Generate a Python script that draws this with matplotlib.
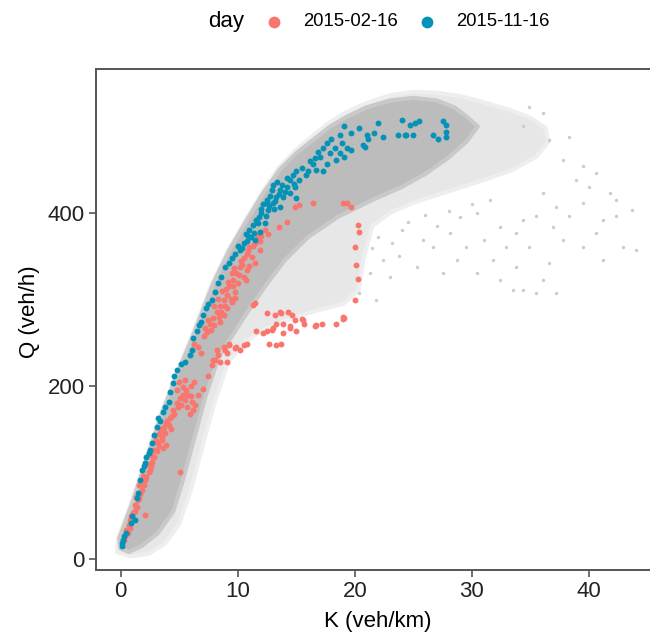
import matplotlib
matplotlib.use("Agg")
import matplotlib.pyplot as plt
import numpy as np

plt.rcParams['font.family'] = ['Liberation Sans', 'DejaVu Sans']

# 背景点云：外层稀疏区域与内层密集带（按轮廓描出）
halo_k = [-0.3, -0.2, 0.4, 1.0, 2.1, 3.5, 5.0, 6.1, 7.8, 9.2, 10.7, 12.1, 13.5, 14.9,
          16.3, 17.8, 19.2, 21.0, 23.0, 25.0, 27.0, 29.0, 31.0, 33.0, 35.0, 36.3, 36.5,
          35.5, 33.5, 31.0, 28.0, 25.0, 23.0, 21.5, 20.8, 20.3, 19.0, 17.0, 15.0, 13.0,
          11.8, 10.6, 9.2, 8.0, 6.8, 6.0, 5.0, 3.8, 2.4, 0.8]
halo_q = [8, 24, 46, 68, 114, 170, 222, 258, 318, 357, 392, 424, 452, 472,
          488, 504, 516, 527, 536, 540, 539, 535, 528, 520, 510, 498, 482,
          465, 450, 438, 425, 412, 400, 385, 350, 310, 295, 288, 280, 270,
          262, 250, 228, 180, 120, 80, 40, 18, 6, 3]

core_k = [0.0, -0.1, 0.5, 1.1, 2.2, 3.6, 5.1, 6.2, 7.9, 9.3, 10.8, 12.2, 13.6, 15.0,
          16.4, 17.9, 19.3, 21.0, 23.0, 25.0, 27.0, 28.5, 29.5, 30.5, 29.5, 28.0, 26.0,
          24.0, 21.5, 18.5, 16.0, 14.0, 12.5, 11.3, 10.0, 8.4, 7.3, 6.3, 5.3, 4.5, 3.2,
          1.8, 0.7]
core_q = [12, 24, 46, 68, 114, 170, 222, 258, 318, 357, 392, 423, 450, 469,
          484, 500, 511, 522, 530, 533, 530, 522, 512, 500, 482, 464, 445,
          430, 415, 395, 372, 345, 318, 295, 268, 234, 190, 140, 90, 55, 30,
          15, 8]

# 右侧稀疏的散点
sparse_k = [44.0, 43.7, 42.3, 42.9, 41.2, 40.6, 39.5, 40.0, 38.9, 38.3, 37.8, 36.9, 36.1,
            35.5, 34.4, 33.5, 34.9, 36.6, 37.2, 36.1, 35.5, 34.4, 33.8, 32.9, 32.4, 31.8,
            31.0, 30.4, 31.5, 37.8, 36.6, 36.1, 34.9, 34.4, 38.3, 39.5, 40.6, 41.8, 42.3,
            29.5, 28.1, 28.7, 26.7, 25.8, 23.8, 22.4, 21.3, 23.0, 25.3, 27.5, 30.4, 32.4,
            37.2, 33.8, 20.4, 21.8, 39.5, 41.2, 22.0, 24.5, 26.0, 28.0, 29.0, 23.2, 21.5,
            24.0, 27.0, 30.0]
sparse_q = [357, 403, 415, 361, 392, 377, 411, 430, 438, 396, 369, 384, 323,
            307, 311, 311, 361, 342, 407, 423, 396, 392, 377, 361, 384, 346,
            369, 400, 415, 461, 484, 515, 523, 500, 488, 454, 446, 423, 396,
            361, 377, 346, 361, 369, 350, 346, 330, 326, 338, 330, 330, 323,
            307, 338, 307, 299, 361, 346, 372, 390, 398, 402, 395, 365, 360,
            380, 385, 410]

# 2015-02-16
day1_k = [16.4, 19.0, 19.3, 19.7, 15.2, 14.9, 14.2, 13.5, 20.3, 20.4, 20.0, 20.1, 20.3,
          20.0, 19.0, 19.0,
          12.0, 11.9, 11.5, 11.0, 10.8, 11.2, 11.5, 10.5, 10.2, 10.8, 9.9, 10.5, 9.6,
          10.0, 9.3, 9.8, 9.1, 8.8, 9.5, 8.5, 9.1, 8.2, 8.8, 7.9, 8.5, 7.6, 7.2, 11.7,
          11.3, 9.0, 9.7, 10.3, 8.6, 9.4, 10.1, 8.0, 7.4,
          8.3, 8.7, 9.2, 9.6, 10.4, 10.9, 11.3, 9.8, 8.9, 8.4, 7.7, 7.1, 10.7, 11.0,
          9.5, 8.0, 7.5, 12.3, 12.6, 11.9,
          11.5, 12.5, 13.6, 14.3, 13.3, 13.9, 14.9, 15.5, 15.7, 14.5, 15.0, 11.6, 12.5,
          13.0, 16.6, 17.2, 18.4, 13.9, 12.2, 12.7, 13.3, 13.7, 12.9, 14.5, 15.6, 16.7,
          19.1, 14.6, 13.7, 13.2,
          8.2, 8.8, 9.3, 9.9, 10.5, 9.1, 7.9, 8.5, 10.2, 10.8, 8.1, 8.3, 8.9, 9.3, 9.8,
          9.1, 7.8, 6.3, 6.6, 6.9,
          5.5, 5.3, 5.8, 6.1, 5.5, 5.1, 5.9, 6.2, 4.5, 4.2, 3.9, 3.6, 3.5, 3.9, 3.2, 2.9,
          2.8, 5.1, 2.5, 2.1, 1.8, 1.5, 1.4, 2.1, 1.1, 0.8, 0.7, 0.5, 0.4, 7.5,
          4.0, 3.7, 3.3, 3.0, 2.6, 2.3, 1.9, 1.6, 1.2, 0.9, 4.8, 5.0, 5.2, 4.9, 6.6, 7.0,
          3.4, 2.7, 1.3,
          1.0, 1.2, 1.6, 1.7, 2.0, 2.2, 2.4, 2.6, 2.9, 3.1, 3.3, 3.5, 3.8, 4.1, 4.4, 4.6,
          4.8, 5.3, 5.6, 6.0, 6.3, 6.0, 5.7, 6.4, 4.3, 3.6, 0.6, 0.3, 0.8]
day1_q = [412, 412, 411, 407, 409, 407, 390, 384, 386, 378, 361, 340, 324,
          299, 280, 277,
          373, 357, 365, 361, 353, 349, 342, 348, 338, 334, 330, 326, 323,
          319, 315, 309, 305, 299, 297, 292, 290, 286, 282, 278, 274, 272, 267, 373,
          294, 312, 336, 344, 285, 300, 328, 270, 262,
          300, 310, 320, 316, 340, 356, 362, 302, 292, 280, 265, 258, 322, 339,
          330, 292, 276, 380, 376, 368,
          296, 284, 286, 286, 272, 272, 276, 277, 272, 267, 263, 263, 263,
          267, 269, 272, 272, 261, 261, 249, 247, 249, 265, 269, 276, 271,
          278, 282, 284, 282,
          242, 245, 249, 245, 247, 238, 230, 228, 242, 249, 230, 236, 242, 247, 244,
          228, 224, 249, 245, 238,
          207, 199, 190, 182, 184, 186, 168, 172, 172, 163, 157, 149, 141, 132, 134, 126,
          118, 101, 103, 91, 80, 68, 60, 51, 53, 45, 39, 34, 26, 211,
          160, 152, 145, 137, 120, 110, 96, 85, 62, 50, 195, 205, 178, 176, 190, 196,
          150, 112, 72,
          48, 55, 70, 75, 85, 95, 100, 108, 118, 125, 130, 138, 146, 155, 165, 168,
          180, 190, 195, 200, 205, 188, 176, 178, 150, 128, 30, 22, 36]

# 2015-11-16
day2_k = [19.1, 19.7, 20.4, 22.0, 21.6, 22.4, 20.7, 21.1, 24.0, 24.7, 25.1, 25.5, 23.7,
          24.4, 25.0, 26.7, 27.1, 27.5, 27.8, 27.8, 27.8, 18.7, 18.9, 19.3, 18.7, 19.1,
          18.3, 17.6, 17.9, 18.4, 17.3, 17.0, 17.6, 17.3, 16.6, 16.4, 16.7, 16.0, 15.0,
          14.7, 14.5, 15.2, 14.9, 14.2, 13.6, 14.5, 15.0, 13.9, 13.3, 12.9, 13.0, 12.5,
          13.6, 12.6, 12.0, 11.6, 12.3, 11.3, 11.0, 11.9, 10.9, 11.5, 10.5, 10.2, 9.8,
          9.5, 9.3, 8.9, 8.6, 8.3, 8.1, 7.8, 7.3, 6.9, 6.5, 6.1, 5.9, 4.8, 4.6, 4.5, 4.2,
          4.1, 3.6, 3.2, 3.1, 2.9, 2.7, 2.5, 2.2, 2.1, 1.8, 1.7, 1.5, 1.2, 0.9, 0.5, 0.2,
          0.1, 0.1,
          12.2, 12.8, 13.2, 13.8, 12.4, 11.8, 13.1, 14.0, 12.7, 11.4, 10.8, 10.4, 11.1,
          13.4, 14.2, 6.7, 7.0, 7.5, 21.0, 20.9, 19.7, 24.3,
          12.5, 13.5, 14.8, 13.0, 12.0, 11.7, 10.7, 10.0, 15.5, 16.2, 16.9, 18.0, 15.8,
          6.2, 5.5, 5.2, 3.8, 3.4, 2.4, 2.0, 1.4, 1.0, 0.3]
day2_q = [500, 492, 498, 504, 492, 488, 479, 486, 507, 502, 504, 506, 490,
          490, 490, 490, 486, 506, 502, 494, 488, 490, 481, 475, 469, 465,
          475, 481, 469, 461, 475, 465, 457, 448, 463, 457, 450, 448, 448,
          444, 438, 438, 430, 430, 427, 423, 417, 419, 419, 427, 411, 415,
          407, 403, 400, 392, 388, 386, 380, 378, 373, 369, 365, 357, 353,
          348, 342, 338, 326, 319, 309, 299, 290, 274, 263, 242, 236, 218, 211, 203, 193,
          182, 170, 163, 153, 143, 134, 126, 118, 111, 103, 91, 76, 45, 41, 30, 22,
          18, 15,
          410, 420, 414, 432, 396, 395, 404, 424, 408, 377, 368, 360, 372,
          436, 440, 270, 282, 295, 490, 476, 473, 490,
          412, 422, 434, 432, 405, 388, 376, 362, 452, 460, 470, 485, 444,
          255, 228, 225, 176, 160, 122, 107, 70, 50, 26]

salmon = '#F8766D'
teal = '#0592B7'

fig = plt.figure(figsize=(6.5, 6.34), dpi=100)
ax = fig.add_axes([0.1472, 0.1005, 0.8528, 0.7912])

# 边线稍浅，让轮廓柔和一些
ax.fill(halo_k, halo_q, fc='#e7e7e7', ec='#eeeeee', lw=3, joinstyle='round', zorder=1)
ax.fill(core_k, core_q, fc='#bcbcbc', ec='#c9c9c9', lw=3, joinstyle='round', zorder=1.2)
ax.scatter(sparse_k, sparse_q, s=6, color='#cccccc', lw=0, zorder=1.5)

p1 = ax.scatter(day1_k, day1_q, s=18, color=salmon, lw=0, zorder=3)
p2 = ax.scatter(day2_k, day2_q, s=18, color=teal, lw=0, zorder=3.1)

ax.set_xlim(-2.12, 45.2)
ax.set_ylim(-13.1, 566.8)
ax.set_xticks([0, 10, 20, 30, 40])
ax.set_yticks([0, 200, 400])
ax.spines['right'].set_visible(False)
for s in ['left', 'top', 'bottom']:
    ax.spines[s].set_color('#555555')
    ax.spines[s].set_linewidth(1.4)
ax.tick_params(length=5, width=1.2, color='#555555', labelcolor='#222222',
               labelsize=16, pad=3)

fig.text(378 / 650, 1 - 621 / 634, 'K (veh/km)', ha='center', va='center', fontsize=16)
fig.text(30 / 650, 1 - 312 / 634, 'Q (veh/h)', ha='center', va='center',
         rotation=90, fontsize=16)

# 图例放在顶部
fig.text(226 / 650, 1 - 22 / 634, 'day', ha='center', va='center', fontsize=16)
fig.legend([p1, p2], ['2015-02-16', '2015-11-16'], ncol=2, loc='center left',
           bbox_to_anchor=(264.5 / 650, 1 - 22 / 634), frameon=False,
           fontsize=13.3, markerscale=2.0, handlelength=1.0, handletextpad=1.07,
           columnspacing=1.09, borderpad=0, borderaxespad=0)

fig.savefig('out.png', dpi=100)
